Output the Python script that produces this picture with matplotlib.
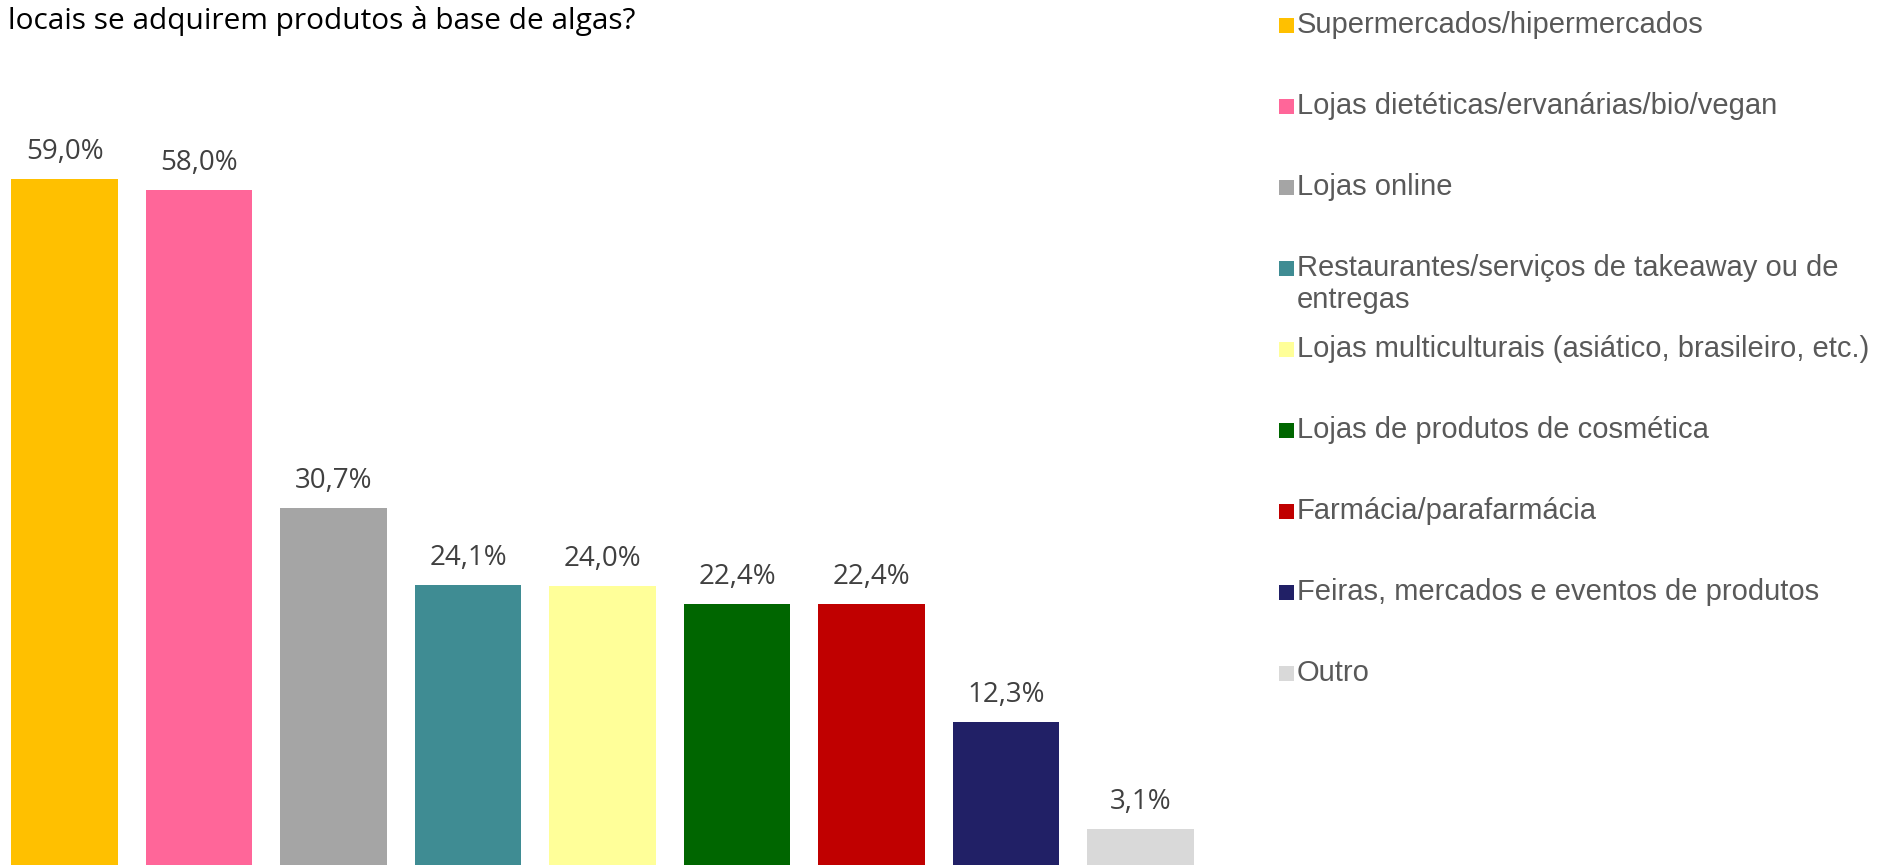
import matplotlib
matplotlib.use("Agg")
import matplotlib.pyplot as plt
from matplotlib.patches import Rectangle

categories = [
    "Supermercados/hipermercados",
    "Lojas dietéticas/ervanárias/bio/vegan",
    "Lojas online",
    "Restaurantes/serviços de takeaway ou de\nentregas",
    "Lojas multiculturais (asiático, brasileiro, etc.)",
    "Lojas de produtos de cosmética",
    "Farmácia/parafarmácia",
    "Feiras, mercados e eventos de produtos",
    "Outro",
]
values = [59.0, 58.0, 30.7, 24.1, 24.0, 22.4, 22.4, 12.3, 3.1]
colors = ["#FFC000", "#FF6699", "#A5A5A5", "#3F8C93", "#FFFF99",
          "#006600", "#C00000", "#212066", "#D9D9D9"]
title_line = "locais se adquirem produtos à base de algas?"

W, H = 1878, 865
fig = plt.figure(figsize=(W / 100, H / 100), dpi=100)

# axes in pixel terms
pitch = 134.5           # px per category
px_per_pct = 11.63      # px per percentage point
first_center = 64.5
ax_w_px = 1215
ax_h_px = 766
ax = fig.add_axes([0, 0, ax_w_px / W, ax_h_px / H])
x = list(range(len(values)))
ax.bar(x, values, width=0.795, color=colors)
left = -first_center / pitch
ax.set_xlim(left, left + ax_w_px / pitch)
ax.set_ylim(0, ax_h_px / px_per_pct)
ax.axis("off")

for xi, v in zip(x, values):
    ax.annotate(f"{v:.1f}".replace(".", ",") + "%", (xi, v),
                xytext=(0, 14.5), textcoords="offset points",
                ha="center", va="baseline", fontsize=20,
                family="Open Sans", color="#404040")

# title (visible second line)
fig.text(8 / W, 1 - 29 / H, title_line, ha="left", va="baseline",
         fontsize=21.5, family="Open Sans", color="#000000")

# legend
for i, (lab, col) in enumerate(zip(categories, colors)):
    yb = 33 + 81 * i
    fig.add_artist(Rectangle((1279 / W, 1 - yb / H), 15 / W, 15 / H,
                             transform=fig.transFigure, color=col, lw=0))
    for j, line in enumerate(lab.split("\n")):
        fig.text(1297 / W, 1 - (yb + 32 * j) / H, line, ha="left",
                 va="baseline", fontsize=21.0, family="Liberation Sans",
                 color="#595959")

fig.savefig("out.png", dpi=100)
